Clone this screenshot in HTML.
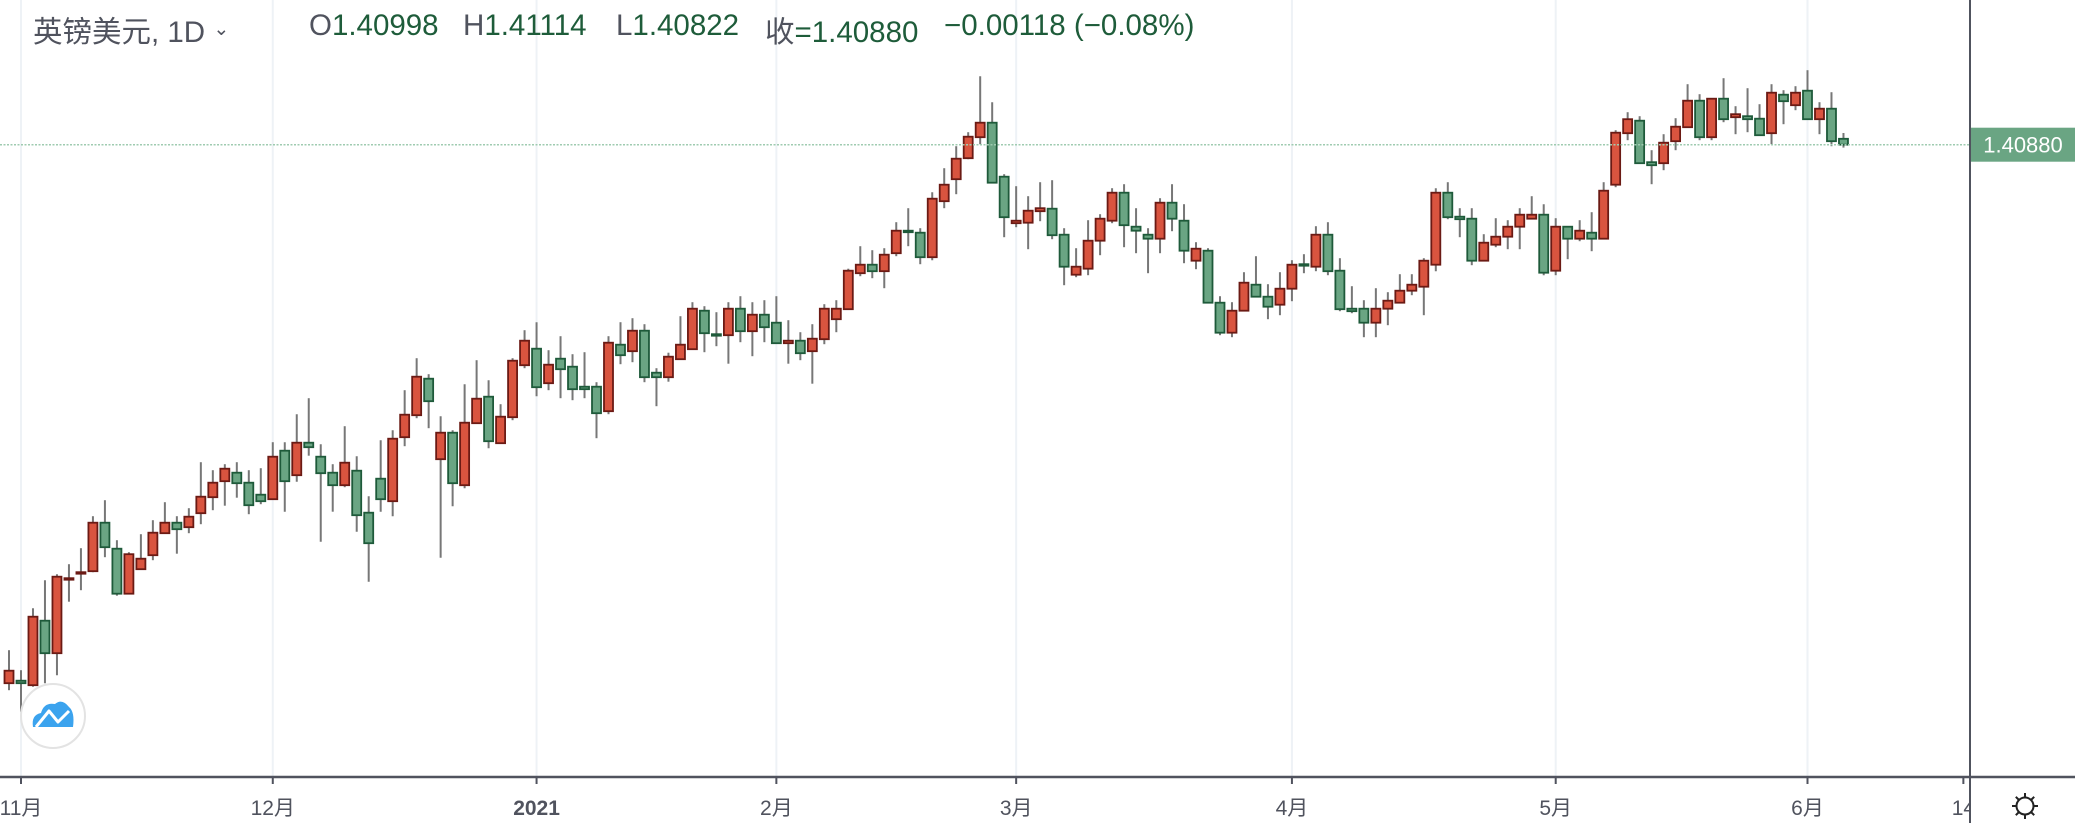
<!DOCTYPE html>
<html><head><meta charset="utf-8">
<style>
html,body{margin:0;padding:0;background:#fff;}
body{width:2075px;height:823px;overflow:hidden;position:relative;font-family:"Liberation Sans","Noto Sans CJK SC",sans-serif;}
svg{position:absolute;left:0;top:0;}
.hdr{position:absolute;top:9px;font-size:29.5px;white-space:nowrap;color:#50535e;}
.g{color:#1e5c3a;}
</style></head>
<body>
<svg id="chart" width="2075" height="823" xmlns="http://www.w3.org/2000/svg"></svg>
<div class="hdr" style="left:33px;">英镑美元, 1D <span style="font-size:19px;vertical-align:7px">&#8964;</span></div>
<div class="hdr" style="left:309px;">O<span class="g">1.40998</span></div>
<div class="hdr" style="left:463px;">H<span class="g">1.41114</span></div>
<div class="hdr" style="left:616px;">L<span class="g">1.40822</span></div>
<div class="hdr" style="left:765px;">收<span class="g">=1.40880</span></div>
<div class="hdr g" style="left:944px;">−0.00118 (−0.08%)</div>
<script>
const opens=[1.3011,1.3016,1.3007,1.3136,1.3071,1.3219,1.3231,1.3235,1.3332,1.3280,1.3190,1.3239,1.3267,1.3311,1.3332,1.3323,1.3351,1.3383,1.3415,1.3432,1.3412,1.3388,1.3379,1.3476,1.3427,1.3492,1.3464,
1.3432,1.3407,1.3436,1.3352,1.3420,1.3375,1.3503,1.3547,1.3620,1.3459,1.3512,1.3407,1.3531,1.3584,1.3491,1.3543,1.3647,1.3680,1.3611,1.3660,1.3644,1.3604,1.3604,1.3555,1.3688,1.3675,1.3716,1.3632,
1.3623,1.3659,1.3679,1.3756,1.3709,1.3707,1.3760,1.3715,1.3748,1.3732,1.3691,1.3696,1.3675,1.3699,1.3739,1.3759,1.3831,1.3848,1.3835,1.3871,1.3916,1.3912,1.3863,1.3975,1.4019,1.4061,1.4103,
1.4132,1.4024,1.3931,1.3932,1.3955,1.3960,1.3908,1.3828,1.3840,1.3896,1.3936,1.3992,1.3924,1.3908,1.3900,1.3972,1.3936,1.3856,1.3876,1.3772,1.3712,1.3756,1.3808,1.3784,1.3768,1.3800,1.3849,
1.3844,1.3908,1.3836,1.3760,1.3760,1.3732,1.3760,1.3772,1.3796,1.3804,1.3848,1.3992,1.3944,1.3940,1.3856,1.3888,1.3904,1.3924,1.3940,1.3948,1.3836,1.3924,1.3900,1.3912,1.3900,1.4008,1.4111,
1.4136,1.4053,1.4051,1.4095,1.4123,1.4176,1.4103,1.4180,1.4143,1.4145,1.4140,1.4111,1.4188,1.4167,1.4196,1.4139,1.4160,1.40998];
const highs=[1.3077,1.3037,1.3161,1.3217,1.3229,1.3249,1.3281,1.3345,1.3377,1.3297,1.3273,1.3309,1.3337,1.3373,1.3345,1.3361,1.3453,1.3437,1.3449,1.3453,1.3437,1.3441,1.3493,1.3493,1.3549,1.3581,1.3489,
1.3449,1.3525,1.3465,1.3385,1.3497,1.3517,1.3597,1.3661,1.3629,1.3545,1.3517,1.3609,1.3657,1.3617,1.3569,1.3661,1.3717,1.3733,1.3677,1.3705,1.3669,1.3673,1.3613,1.3705,1.3733,1.3741,1.3729,1.3641,
1.3672,1.3745,1.3773,1.3765,1.3753,1.3773,1.3785,1.3773,1.3777,1.3785,1.3737,1.3713,1.3729,1.3769,1.3777,1.3840,1.3885,1.3877,1.3881,1.3933,1.3961,1.3921,1.3993,1.4041,1.4085,1.4113,1.4225,
1.4173,1.4029,1.4005,1.3985,1.4013,1.4017,1.3921,1.3881,1.3937,1.3949,1.4001,1.4009,1.3961,1.3921,1.3981,1.4009,1.3969,1.3893,1.3881,1.3785,1.3773,1.3833,1.3865,1.3809,1.3833,1.3857,1.3869,
1.3925,1.3933,1.3861,1.3805,1.3777,1.3801,1.3793,1.3829,1.3829,1.3861,1.4001,1.4013,1.3961,1.3961,1.3909,1.3941,1.3937,1.3961,1.3985,1.3969,1.3941,1.3925,1.3937,1.3953,1.4013,1.4117,1.4153,
1.4145,1.4077,1.4109,1.4141,1.4209,1.4189,1.4181,1.4221,1.4165,1.4201,1.4169,1.4209,1.4197,1.4205,1.4237,1.4173,1.4193,1.41114];
const lows=[1.2997,1.2954,1.3004,1.3011,1.3027,1.3174,1.3197,1.3233,1.3263,1.3186,1.3189,1.3238,1.3257,1.3310,1.3270,1.3311,1.3329,1.3357,1.3366,1.3382,1.3349,1.3369,1.3378,1.3354,1.3414,1.3466,1.3294,
1.3354,1.3403,1.3314,1.3214,1.3354,1.3345,1.3485,1.3541,1.3521,1.3262,1.3365,1.3401,1.3530,1.3481,1.3490,1.3537,1.3641,1.3585,1.3597,1.3581,1.3577,1.3581,1.3501,1.3549,1.3649,1.3653,1.3613,1.3565,
1.3614,1.3658,1.3678,1.3673,1.3685,1.3650,1.3693,1.3665,1.3693,1.3690,1.3650,1.3657,1.3610,1.3689,1.3713,1.3758,1.3825,1.3821,1.3801,1.3865,1.3885,1.3849,1.3857,1.3961,1.3989,1.4059,1.4089,
1.4011,1.3903,1.3923,1.3879,1.3935,1.3899,1.3807,1.3823,1.3827,1.3867,1.3931,1.3883,1.3871,1.3831,1.3871,1.3915,1.3851,1.3839,1.3771,1.3707,1.3703,1.3755,1.3783,1.3739,1.3747,1.3775,1.3831,
1.3835,1.3827,1.3755,1.3751,1.3703,1.3703,1.3727,1.3771,1.3787,1.3747,1.3835,1.3939,1.3903,1.3847,1.3855,1.3883,1.3879,1.3879,1.3939,1.3827,1.3827,1.3859,1.3895,1.3875,1.3899,1.4003,1.4097,
1.4050,1.4009,1.4037,1.4077,1.4122,1.4097,1.4097,1.4133,1.4109,1.4113,1.4106,1.4089,1.4129,1.4157,1.4138,1.4109,1.4085,1.40822];
const closes=[1.3036,1.3011,1.3144,1.3071,1.3224,1.3221,1.3233,1.3332,1.3283,1.3190,1.3269,1.3260,1.3312,1.3332,1.3319,1.3344,1.3384,1.3412,1.3440,1.3411,1.3367,1.3375,1.3464,1.3415,1.3492,1.3483,1.3431,
1.3407,1.3452,1.3347,1.3291,1.3379,1.3500,1.3548,1.3624,1.3575,1.3512,1.3411,1.3532,1.3580,1.3495,1.3544,1.3656,1.3696,1.3603,1.3648,1.3639,1.3599,1.3599,1.3551,1.3692,1.3667,1.3716,1.3623,1.3623,
1.3664,1.3688,1.3760,1.3711,1.3707,1.3760,1.3715,1.3748,1.3723,1.3691,1.3696,1.3671,1.3700,1.3760,1.3760,1.3836,1.3848,1.3835,1.3868,1.3916,1.3914,1.3863,1.3980,1.4008,1.4060,1.4104,1.4132,
1.4012,1.3943,1.3936,1.3956,1.3961,1.3907,1.3844,1.3844,1.3896,1.3940,1.3992,1.3927,1.3916,1.3900,1.3972,1.3940,1.3876,1.3880,1.3772,1.3712,1.3756,1.3812,1.3784,1.3764,1.3800,1.3848,1.3847,
1.3908,1.3835,1.3759,1.3755,1.3732,1.3760,1.3776,1.3796,1.3808,1.3856,1.3992,1.3943,1.3939,1.3856,1.3892,1.3904,1.3924,1.3948,1.3948,1.3832,1.3924,1.3900,1.3916,1.3900,1.3996,1.4112,1.4139,
1.4051,1.4047,1.4092,1.4124,1.4176,1.4103,1.4180,1.4139,1.4149,1.4139,1.4107,1.4192,1.4175,1.4192,1.4139,1.4160,1.4095,1.40880];
const tickLabels=["11月","12月","2021","2月","3月","4月","5月","6月","14"];
const tickIndex=[1,22,44,64,84,107,129,150,163];
const lastPrice=1.40880;

const NS="http://www.w3.org/2000/svg";
const svg=document.getElementById('chart');
const X0=9,STEP=11.99,PLOT_R=1970,AXIS_Y=777;
function xs(i){return X0+i*STEP;}
function ys(p){return (1.43774-p)/0.0002;}
function mk(tag,attrs,parent){const e=document.createElementNS(NS,tag);for(const k in attrs)e.setAttribute(k,attrs[k]);(parent||svg).appendChild(e);return e;}

const grid=mk('g',{});


tickIndex.forEach((ti,k)=>{
  if(k===tickIndex.length-1)return;
  const l=mk('line',{x1:xs(ti),x2:xs(ti),y1:0,y2:AXIS_Y,stroke:'#eef2f6','stroke-width':2},grid);
  
  
});
const cg=mk('g',{});


for(let i=0;i<opens.length;i++){
  const up=closes[i]>=opens[i];
  const x=xs(i);
  const g=mk('g',{},cg);
  
  
  mk('line',{x1:x,x2:x,y1:ys(highs[i]),y2:ys(lows[i]),stroke:'#777','stroke-width':2},g);
  const t=ys(Math.max(opens[i],closes[i])),b=ys(Math.min(opens[i],closes[i]));
  const h=Math.max(b-t,1.5);
  mk('rect',{x:x-4.5,y:t,width:9,height:h,fill:up?'#d9543f':'#6aa583',stroke:up?'#6b1a14':'#1e5a3a','stroke-width':1.8},g);
}
const pl=mk('line',{x1:0,x2:PLOT_R,y1:ys(lastPrice),y2:ys(lastPrice),stroke:'#9fcbb0','stroke-width':1.5,'stroke-dasharray':'2 1.5'});


const ra=mk('line',{x1:PLOT_R,x2:PLOT_R,y1:0,y2:823,stroke:'#50535e','stroke-width':2});


const lbl=mk('g',{});


mk('rect',{x:PLOT_R+1,y:ys(lastPrice)-17,width:104,height:34,fill:'#6aa583'},lbl);
const lt=mk('text',{x:2023,y:ys(lastPrice)+8,'text-anchor':'middle',fill:'#fff','font-size':22,'font-family':'Liberation Sans, sans-serif'},lbl);
lt.textContent=lastPrice.toFixed(5);
const ba=mk('line',{x1:0,x2:2075,y1:AXIS_Y,y2:AXIS_Y,stroke:'#50535e','stroke-width':2.5});


const clip=mk('clipPath',{id:'tc'});
mk('rect',{x:0,y:770,width:PLOT_R,height:60},clip);
const tg=mk('g',{'clip-path':'url(#tc)'});


tickIndex.forEach((ti,k)=>{
  const x=xs(ti);
  const tk=mk('line',{x1:x,x2:x,y1:AXIS_Y,y2:AXIS_Y+7,stroke:'#50535e','stroke-width':2},tg);
  
  
  const t=mk('text',{x:x,y:815,'text-anchor':'middle',fill:'#50535e','font-size':21,'font-weight':tickLabels[k]==='2021'?'bold':'normal','font-family':'Liberation Sans, Noto Sans CJK SC, sans-serif'},tg);
  
  
  t.textContent=tickLabels[k];
});
const gear=mk('g',{});


mk('circle',{cx:2025,cy:806,r:8.5,fill:'none',stroke:'#222','stroke-width':2},gear);
for(let a=0;a<8;a++){const r=a*Math.PI/4;mk('line',{x1:2025+Math.cos(r)*9,y1:806+Math.sin(r)*9,x2:2025+Math.cos(r)*13,y2:806+Math.sin(r)*13,stroke:'#222','stroke-width':2},gear);}
const logo=mk('g',{});


mk('circle',{cx:53,cy:716,r:32,fill:'#fff',stroke:'#e3e3e3','stroke-width':2},logo);
mk('path',{d:'M33 727 Q31 715 41 713 Q44 702 55 704 Q62 698 69 707 Q75 712 73 727 Z',fill:'#3ba3ee'},logo);
mk('polyline',{points:'36,727 49,711 58,722 69,711',fill:'none',stroke:'#fff','stroke-width':3,'stroke-linejoin':'round'},logo);
</script>
</body></html>
